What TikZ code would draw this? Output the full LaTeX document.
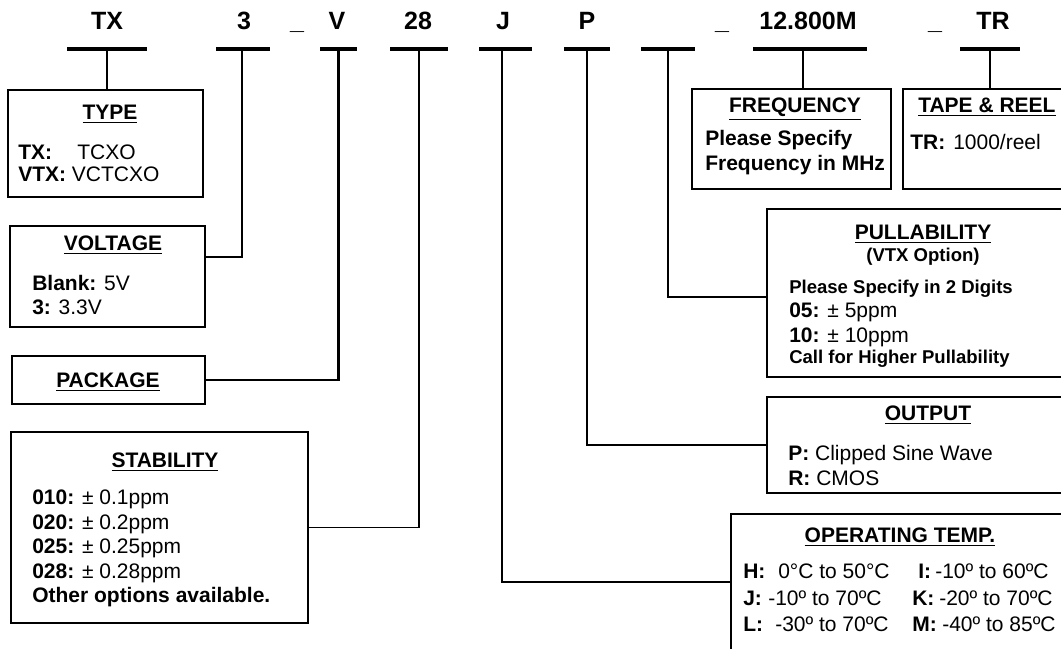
\documentclass[tikz,border=0pt]{standalone}
\usepackage{fontspec}
\setmainfont{Liberation Sans}
\usetikzlibrary{fit}
\newcommand\bodyfnt{\fontsize{15.75}{18}\selectfont}
\newcommand\smallfnt{\fontsize{13.9}{16}\selectfont}
\newcommand\labfnt{\fontsize{18.75}{21}\selectfont}
\newcommand\hdul[1]{\leavevmode\vtop{\hbox{#1}\kern1.6pt\hrule height 1.2pt}}
\tikzset{
  lbl/.style={font=\labfnt\bfseries, anchor=base, inner sep=0pt},
  hd/.style={font=\bodyfnt\bfseries, anchor=base, inner sep=0pt},
  tx/.style={font=\bodyfnt, anchor=base west, inner sep=0pt},
  sm/.style={font=\smallfnt\bfseries, anchor=base west, inner sep=0pt},
  smc/.style={font=\smallfnt\bfseries, anchor=base, inner sep=0pt},
  bar/.style={fill=black, inner sep=0pt, minimum height=2.6pt},
  box/.style={draw, line width=1.9pt, inner sep=0pt},
  conn/.style={line width=1pt},
  connt/.style={line width=1.6pt}
}
\begin{document}
\begin{tikzpicture}[x=0.75pt, y=-0.75pt]
\useasboundingbox (0,0) rectangle (1061,649);
\clip (0,0) rectangle (1061,649);
\fill[white] (0,0) rectangle (1061,649);

% top labels
\node[lbl] (lTX) at (107,29.5) {TX};
\node[lbl] (l3) at (244,29.5) {3};
\node[lbl] (u1) at (297,29.5) {\textunderscore};
\node[lbl] (lV) at (337,29.5) {V};
\node[lbl] (l28) at (418,29.5) {28};
\node[lbl] (lJ) at (503,29.5) {J};
\node[lbl] (lP) at (587,29.5) {P};
\node[lbl] (u2) at (722,29.5) {\textunderscore};
\node[lbl] (lM) at (808,29.5) {12.800M};
\node[lbl] (u3) at (935,29.5) {\textunderscore};
\node[lbl] (lTR) at (993,29.5) {TR};

% bars
\node[bar, minimum width=60pt] (bTX) at (107,49) {};
\node[bar, minimum width=40.5pt] (b3) at (243,49) {};
\node[bar, minimum width=27.75pt] (bV) at (338.5,49) {};
\node[bar, minimum width=43.5pt] (b28) at (419,49) {};
\node[bar, minimum width=39.75pt] (bJ) at (505.5,49) {};
\node[bar, minimum width=34.5pt] (bP) at (587,49) {};
\node[bar, minimum width=40.5pt] (bB) at (668,49) {};
\node[bar, minimum width=85.5pt] (bM) at (810,49) {};
\node[bar, minimum width=45pt] (bTR) at (990,49) {};

% boxes
\node[box, fit={(8,90) (203,197)}] (type) {};
\node[box, fit={(10,226) (205,327)}] (volt) {};
\node[box, fit={(12,356) (205,404)}] (pkg) {};
\node[box, fit={(11,432) (308,623)}] (stab) {};
\node[box, fit={(692,89) (891,189)}] (freq) {};
\node[box, fit={(903,89) (1090,189)}] (tape) {};
\node[box, fit={(767,209) (1090,377)}] (pull) {};
\node[box, fit={(767,397) (1090,493)}] (out) {};
\node[box, fit={(731,514) (1090,700)}] (oper) {};

% connector corner points
\coordinate (c3) at (242,257);
\coordinate (cJ) at (502,582);
\coordinate (cB) at (668,297);
\coordinate (cM) at (803,89);

% connectors
\draw[connt] (bTX.south) -- (bTX.south |- type.north);
\draw[conn] (c3 |- b3.south) -- (c3) -- (c3 -| volt.east);
\draw[connt] (bV.south) |- (pkg.east);
\draw[conn] (b28.south) |- (stab.east);
\draw[conn] (cJ |- bJ.south) -- (cJ) -- (cJ -| oper.west);
\draw[conn] (bP.south) |- (out.west);
\draw[conn] (cB |- bB.south) -- (cB) -- (cB -| pull.west);
\draw[conn] (cM |- bM.south) -- (cM);
\draw[connt] (bTR.south) -- (bTR.south |- tape.north);

% TYPE
\node[hd] (typeh) at (110,119.5) {\hdul{TYPE}};
\node[tx] (typea) at (18,159.5) {\textbf{TX:}};
\node[tx] (typeb) at (77,159.5) {TCXO};
\node[tx] (typec) at (18,181.5) {\textbf{VTX:} VCTCXO};

% VOLTAGE
\node[hd] (volth) at (113,250.5) {\hdul{VOLTAGE}};
\node[tx] (volta) at (32,290.5) {\textbf{Blank:} 5V};
\node[tx] (voltb) at (32,315) {\textbf{3:} 3.3V};

% PACKAGE
\node[hd] (pkgh) at (108,387.5) {\hdul{PACKAGE}};

% STABILITY
\node[hd] (stabh) at (165,467.5) {\hdul{STABILITY}};
\node[tx] (staba) at (32,504.5) {\textbf{010:} ± 0.1ppm};
\node[tx] (stabb) at (32,529) {\textbf{020:} ± 0.2ppm};
\node[tx] (stabc) at (32,553.5) {\textbf{025:} ± 0.25ppm};
\node[tx] (stabd) at (32,578) {\textbf{028:} ± 0.28ppm};
\node[tx] (stabe) at (32,602.5) {\textbf{Other options available.}};

% FREQUENCY
\node[hd] (freqh) at (795,112.5) {\hdul{FREQUENCY}};
\node[tx] (freqa) at (705,146) {\textbf{Please Specify}};
\node[tx] (freqb) at (705,171) {\textbf{Frequency in MHz}};

% TAPE & REEL
\node[hd, anchor=base west] (tapeh) at (918,112.5) {\hdul{TAPE \& REEL}};
\node[tx] (tapea) at (910,149.5) {\textbf{TR:}};
\node[tx] (tapeb) at (953,149.5) {1000/reel};

% PULLABILITY
\node[hd] (pullh) at (923,239.5) {\hdul{PULLABILITY}};
\node[smc] (pullv) at (923,261.6) {(VTX Option)};
\node[sm] (pulla) at (789,293.6) {Please Specify in 2 Digits};
\node[tx] (pullb) at (789,317.5) {\textbf{05:} ± 5ppm};
\node[tx] (pullc) at (789,342) {\textbf{10:} ± 10ppm};
\node[sm] (pulld) at (789,363.6) {Call for Higher Pullability};

% OUTPUT
\node[hd] (outh) at (928,420.5) {\hdul{OUTPUT}};
\node[tx] (outa) at (788,460.5) {\textbf{P:} Clipped Sine Wave};
\node[tx] (outb) at (788,485.5) {\textbf{R:} CMOS};

% OPERATING TEMP
\node[hd] (operh) at (900,542.5) {\hdul{OPERATING TEMP.}};
\node[tx] (oH) at (743,578.5) {\textbf{H:}};
\node[tx] (oHv) at (778,578.5) {0°C to 50°C};
\node[tx] (oI) at (918,578.5) {\textbf{I:}};
\node[tx] (oIv) at (935,578.5) {-10º to 60ºC};
\node[tx] (oJ) at (743,605.5) {\textbf{J:}};
\node[tx] (oJv) at (768,605.5) {-10º to 70ºC};
\node[tx] (oK) at (912,605.5) {\textbf{K:}};
\node[tx] (oKv) at (939,605.5) {-20º to 70ºC};
\node[tx] (oL) at (743,631.5) {\textbf{L:}};
\node[tx] (oLv) at (775,631.5) {-30º to 70ºC};
\node[tx] (oM) at (912,631.5) {\textbf{M:}};
\node[tx] (oMv) at (942,631.5) {-40º to 85ºC};
\end{tikzpicture}
\end{document}
